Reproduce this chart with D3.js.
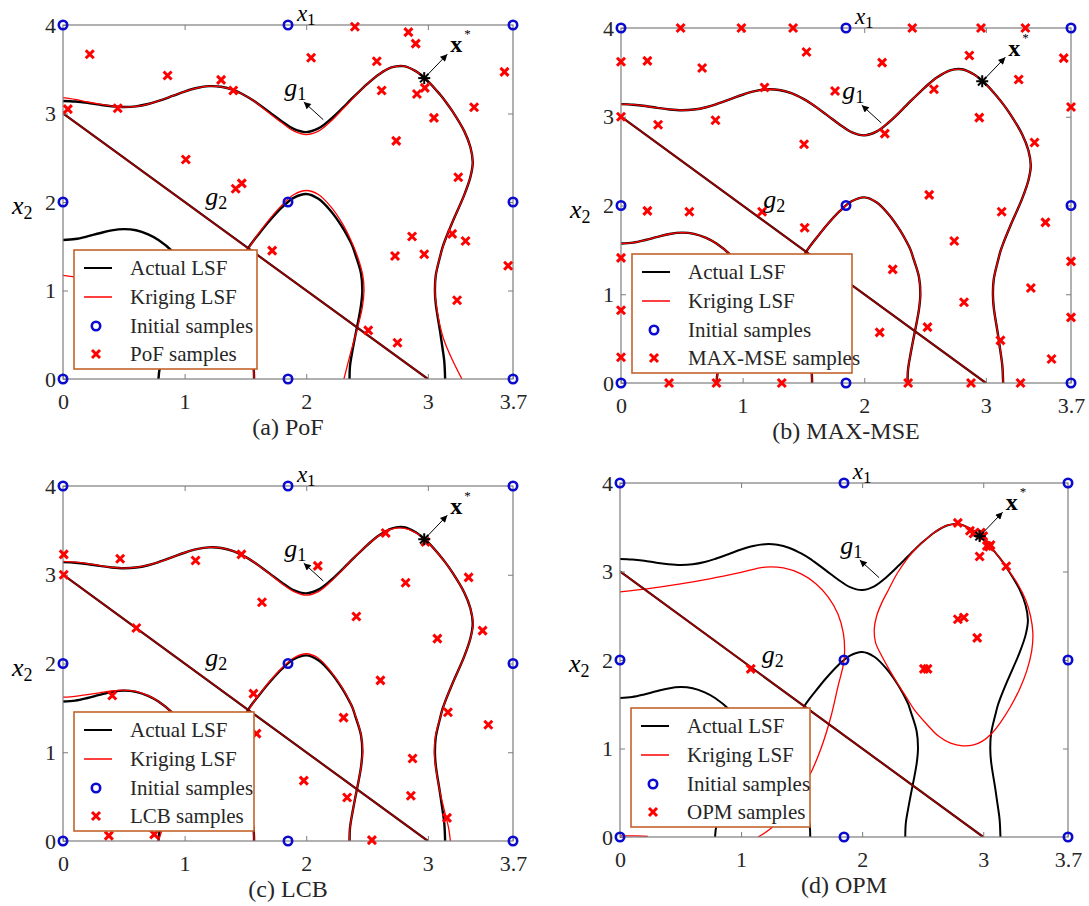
<!DOCTYPE html>
<html>
<head>
<meta charset="utf-8">
<script src="https://cdn.jsdelivr.net/npm/d3@7/dist/d3.min.js"></script>
<style>
body { margin: 0; background: #fff; }
text { font-family: "Liberation Serif", "Times New Roman", serif; }
</style>
</head>
<body>
<script>
var width = 1089;
var height = 906;

// axis ticks
var xTicks = [0, 1, 2, 3, 3.7];
var yTicks = [0, 1, 2, 3, 4];

// 3x3 grid of initial samples (same in every panel)
var initialSamples = [[0,0],[0,2],[0,4],[1.85,0],[1.85,2],[1.85,4],[3.7,0],[3.7,2],[3.7,4]];
var optimum = [2.97, 3.40];
var g2Line = [[0,3],[3,0]];

// actual limit state curves (g1 = 0)
var actualUpper = [[0,3.142],[0.1,3.136],[0.2,3.121],[0.3,3.10],[0.4,3.082],[0.5,3.073],[0.6,3.081],[0.7,3.107],[0.785,3.142],[0.9,3.198],[1.0,3.248],[1.1,3.288],[1.2,3.309],[1.3,3.302],[1.4,3.266],[1.5,3.201],[1.571,3.142],[1.6,3.114],[1.7,3.013],[1.8,2.910],[1.9,2.823],[2.0,2.790],[2.1,2.832],[2.2,2.935],[2.3,3.064],[2.356,3.142],[2.4,3.201],[2.5,3.332],[2.6,3.444],[2.7,3.520],[2.8,3.535],[2.9,3.479],[3.0,3.367],[3.1,3.214],[3.142,3.142],[3.2,3.029],[3.3,2.798],[3.35,2.619],[3.369,2.45],[3.35,2.284],[3.3,2.083],[3.2,1.766],[3.142,1.571],[3.12,1.485],[3.1,1.381],[3.065,1.17],[3.058,1.0],[3.065,0.85],[3.1,0.541],[3.12,0.353],[3.135,0.2],[3.142,0]];
var actualMiddle = [[1.571,0],[1.565,0.15],[1.53,0.34],[1.5,0.467],[1.4,0.836],[1.37,0.93],[1.365,1.0],[1.37,1.09],[1.4,1.191],[1.5,1.421],[1.53,1.494],[1.571,1.571],[1.6,1.622],[1.7,1.791],[1.8,1.939],[1.9,2.05],[2.0,2.091],[2.1,2.037],[2.2,1.902],[2.3,1.709],[2.356,1.571],[2.38,1.503],[2.4,1.422],[2.45,1.195],[2.461,1.0],[2.45,0.83],[2.4,0.466],[2.38,0.321],[2.36,0.15],[2.356,0]];
var actualLeft = [[0,1.571],[0.1,1.582],[0.2,1.611],[0.3,1.647],[0.4,1.679],[0.5,1.694],[0.6,1.681],[0.7,1.635],[0.785,1.571],[0.9,1.443],[1.0,1.278],[1.05,1.161],[1.081,1.0],[1.05,0.88],[1.0,0.70],[0.9,0.452],[0.8,0.146],[0.785,0]];

// kriging LSF, panel (a)
var krigA_upper = [[0,3.18],[0.1,3.16],[0.2,3.13],[0.3,3.105],[0.4,3.084],[0.5,3.073],[0.6,3.081],[0.7,3.107],[0.785,3.142],[0.9,3.198],[1.0,3.248],[1.1,3.288],[1.2,3.309],[1.3,3.302],[1.4,3.266],[1.5,3.201],[1.571,3.142],[1.6,3.11],[1.7,3.0],[1.8,2.895],[1.9,2.80],[2.0,2.762],[2.1,2.80],[2.2,2.91],[2.3,3.05],[2.356,3.13],[2.4,3.195],[2.5,3.332],[2.6,3.444],[2.7,3.520],[2.8,3.535],[2.9,3.479],[3.0,3.367],[3.1,3.214],[3.142,3.142],[3.2,3.029],[3.3,2.798],[3.35,2.619],[3.369,2.45],[3.35,2.284],[3.3,2.083],[3.2,1.766],[3.142,1.571],[3.1,1.381],[3.07,1.21],[3.058,1.0],[3.075,0.78],[3.1,0.6],[3.13,0.45],[3.2,0.22],[3.28,0]];
var krigA_middle = [[1.571,0],[1.565,0.15],[1.53,0.34],[1.5,0.467],[1.4,0.836],[1.365,1.0],[1.4,1.191],[1.5,1.421],[1.571,1.571],[1.6,1.63],[1.7,1.81],[1.8,1.965],[1.9,2.085],[2.0,2.13],[2.1,2.085],[2.2,1.95],[2.3,1.75],[2.37,1.56],[2.42,1.39],[2.465,1.17],[2.475,1.0],[2.46,0.8],[2.41,0.52],[2.36,0.27],[2.31,0]];
var krigA_left = [[0,1.17],[0.12,1.15],[0.3,1.12],[0.5,1.05]];

// kriging LSF, panel (c)
var krigC_upper = [[0,3.15],[0.1,3.142],[0.2,3.126],[0.3,3.104],[0.4,3.084],[0.5,3.075],[0.6,3.083],[0.7,3.108],[0.785,3.142],[0.9,3.198],[1.0,3.248],[1.1,3.288],[1.2,3.309],[1.3,3.302],[1.4,3.266],[1.5,3.201],[1.571,3.142],[1.6,3.112],[1.7,3.008],[1.8,2.90],[1.9,2.81],[2.0,2.77],[2.1,2.81],[2.2,2.92],[2.3,3.058],[2.356,3.14],[2.4,3.201],[2.5,3.332],[2.6,3.444],[2.7,3.515],[2.8,3.525],[2.9,3.475],[3.0,3.367],[3.1,3.214],[3.142,3.142],[3.2,3.03],[3.3,2.80],[3.35,2.62],[3.372,2.45],[3.35,2.28],[3.3,2.083],[3.2,1.766],[3.142,1.571],[3.1,1.381],[3.065,1.2],[3.053,1.0],[3.07,0.78],[3.1,0.55],[3.14,0.32],[3.17,0.15],[3.185,0]];
var krigC_middle = [[1.571,0],[1.565,0.15],[1.53,0.34],[1.5,0.467],[1.4,0.836],[1.365,1.0],[1.4,1.191],[1.5,1.421],[1.571,1.571],[1.6,1.625],[1.7,1.80],[1.8,1.95],[1.9,2.065],[2.0,2.11],[2.1,2.06],[2.2,1.915],[2.3,1.72],[2.356,1.578],[2.4,1.43],[2.45,1.2],[2.463,1.0],[2.45,0.83],[2.4,0.466],[2.36,0.15],[2.356,0]];
var krigC_left = [[0,1.62],[0.1,1.63],[0.2,1.65],[0.3,1.67],[0.4,1.69],[0.5,1.70],[0.6,1.685],[0.7,1.637],[0.785,1.571],[0.9,1.443],[1.0,1.278],[1.081,1.0],[1.0,0.70],[0.9,0.452],[0.785,0]];

// kriging LSF, panel (d)
var krigD_left = [[0,2.77],[0.25,2.81],[0.5,2.86],[0.75,2.92],[1.0,2.99],[1.2,3.05],[1.35,3.04],[1.5,2.97],[1.62,2.86],[1.72,2.71],[1.8,2.52],[1.845,2.3],[1.855,2.1],[1.845,1.95],[1.8,1.7],[1.74,1.35],[1.66,1.0],[1.56,0.68],[1.44,0.42],[1.33,0.22],[1.24,0.09],[1.14,0]];
var krigD_bottom = [[0,0.012],[0.12,0.012],[0.23,0.008]];
var krigD_loop = [[2.5,3.332],[2.6,3.444],[2.7,3.52],[2.8,3.535],[2.9,3.479],[3.0,3.367],[3.1,3.214],[3.142,3.142],[3.2,3.03],[3.28,2.87],[3.35,2.68],[3.39,2.5],[3.41,2.3],[3.40,2.10],[3.36,1.88],[3.30,1.67],[3.22,1.46],[3.14,1.29],[3.07,1.17],[2.99,1.08],[2.92,1.04],[2.83,1.03],[2.73,1.06],[2.63,1.14],[2.53,1.28],[2.43,1.44],[2.36,1.59],[2.29,1.74],[2.22,1.90],[2.16,2.05],[2.11,2.20],[2.10,2.35],[2.12,2.50],[2.16,2.64],[2.22,2.80],[2.29,2.98],[2.37,3.14],[2.43,3.24]];

// infill samples
var pofSamples = [[0.22,3.67],[0.04,3.05],[0.45,3.06],[0.86,3.43],[1.30,3.38],[1.40,3.26],[1.01,2.48],[1.42,2.15],[1.47,2.21],[1.72,1.45],[2.04,3.63],[2.40,3.98],[2.58,3.59],[2.62,3.26],[2.74,2.69],[2.84,3.92],[2.90,3.79],[2.91,3.22],[2.975,3.29],[3.05,2.95],[3.38,3.07],[3.63,3.47],[3.25,2.28],[3.20,1.64],[3.31,1.56],[2.87,1.61],[2.73,1.39],[2.97,1.41],[3.66,1.28],[3.24,0.89],[2.51,0.55],[2.75,0.41]];
var maxmseSamples = [[0.49,4],[0.99,4],[1.415,4],[2.395,4],[2.96,4],[3.325,4],[0,3.62],[0.217,3.63],[0.667,3.55],[1.525,3.73],[2.147,3.61],[2.864,3.69],[3.64,3.66],[3.27,3.42],[1.18,3.33],[1.76,3.29],[2.573,3.31],[0,3.0],[0.305,2.91],[0.777,2.96],[2.946,2.99],[3.7,3.11],[2.169,2.81],[1.505,2.69],[3.40,2.71],[2.534,2.12],[3.13,1.93],[3.49,1.81],[0.217,1.94],[0.562,1.93],[1.16,1.93],[1.51,1.75],[2.74,1.60],[3.7,1.37],[0,1.41],[2.234,1.28],[3.37,1.07],[2.82,0.91],[0,0.82],[3.7,0.74],[2.127,0.57],[2.52,0.63],[3.12,0.48],[0,0.29],[3.54,0.27],[0.395,0],[0.785,0],[1.322,0],[2.361,0],[2.878,0],[3.285,0]];
var lcbSamples = [[0.006,3.23],[0.47,3.18],[1.09,3.16],[1.467,3.23],[2.095,3.10],[0.006,3.0],[1.636,2.69],[2.653,3.47],[2.817,2.91],[3.335,2.97],[2.412,2.53],[3.45,2.37],[3.078,2.28],[0.603,2.40],[2.61,1.81],[0.405,1.64],[1.566,1.66],[3.165,1.45],[3.497,1.31],[1.591,1.21],[2.307,1.39],[2.874,0.93],[1.98,0.68],[2.336,0.49],[2.86,0.51],[3.157,0.26],[0.377,0.06],[0.75,0.075],[2.54,0.01],[2.98,3.37]];
var opmSamples = [[2.79,3.55],[2.89,3.46],[2.92,3.43],[2.98,3.44],[3.0,3.40],[3.03,3.29],[3.06,3.30],[3.05,3.28],[2.97,3.17],[3.19,3.06],[2.79,2.46],[2.84,2.48],[2.95,2.25],[2.51,1.90],[2.54,1.90],[1.08,1.90]];

var panels = [
    {left: 63, top: 25, w: 450, h: 354, caption: "(a) PoF", name: "PoF samples", legendW: 183,
     samples: pofSamples, kriging: [krigA_upper, krigA_middle, krigA_left], loop: null, overlay: true},
    {left: 621, top: 28, w: 450, h: 355, caption: "(b) MAX-MSE", name: "MAX-MSE samples", legendW: 220,
     samples: maxmseSamples, kriging: [actualUpper, actualMiddle, actualLeft], loop: null, overlay: true},
    {left: 63, top: 486, w: 450, h: 355, caption: "(c) LCB", name: "LCB samples", legendW: 180,
     samples: lcbSamples, kriging: [krigC_upper, krigC_middle, krigC_left], loop: null, overlay: true},
    {left: 620, top: 483, w: 448, h: 354, caption: "(d) OPM", name: "OPM samples", legendW: 179,
     samples: opmSamples, kriging: [krigD_left, krigD_bottom], loop: krigD_loop, overlay: false}
];

var svg = d3.select("body").append("svg")
    .attr("width", width)
    .attr("height", height);

svg.append("rect").attr("width", width).attr("height", height).attr("fill", "#fff");

var defs = svg.append("defs");
defs.append("marker")
    .attr("id", "arrow")
    .attr("viewBox", "0 0 10 10")
    .attr("refX", 10).attr("refY", 5)
    .attr("markerWidth", 9).attr("markerHeight", 7)
    .attr("markerUnits", "userSpaceOnUse")
    .attr("orient", "auto")
    .append("path").attr("d", "M0,0L10,5L0,10z").attr("fill", "#000");

var axisCol = "#7d7d7d";
var textCol = "#262626";
var red = "#ff0000";
var blue = "#0b0bd0";

function crossPath(s) {
    return "M" + (-s) + "," + (-s) + "L" + s + "," + s + "M" + (-s) + "," + s + "L" + s + "," + (-s);
}

panels.forEach(function(p, i) {
    var x = d3.scaleLinear().domain([0, 3.7]).range([p.left, p.left + p.w]);
    var y = d3.scaleLinear().domain([0, 4]).range([p.top + p.h, p.top]);
    var line = d3.line().x(d => x(d[0])).y(d => y(d[1])).curve(d3.curveCatmullRom.alpha(0.5));
    var loopLine = d3.line().x(d => x(d[0])).y(d => y(d[1])).curve(d3.curveCatmullRomClosed.alpha(0.5));

    defs.append("clipPath").attr("id", "clip" + i)
        .append("rect").attr("x", p.left).attr("y", p.top).attr("width", p.w).attr("height", p.h);

    var g = svg.append("g");
    var plot = g.append("g").attr("clip-path", "url(#clip" + i + ")");

    // actual LSF
    [actualUpper, actualMiddle, actualLeft].forEach(function(c) {
        plot.append("path").attr("d", line(c))
            .attr("fill", "none").attr("stroke", "#000")
            .attr("stroke-width", p.overlay ? 2.4 : 2.0);
    });
    // kriging LSF
    p.kriging.forEach(function(c) {
        plot.append("path").attr("d", line(c))
            .attr("fill", "none").attr("stroke", red).attr("stroke-width", 1.3);
    });
    if (p.loop) {
        plot.append("path").attr("d", loopLine(p.loop))
            .attr("fill", "none").attr("stroke", red).attr("stroke-width", 1.3);
    }
    // g2 (actual and kriging coincide)
    plot.append("path").attr("d", d3.line().x(d => x(d[0])).y(d => y(d[1]))(g2Line))
        .attr("fill", "none").attr("stroke", "#000").attr("stroke-width", 2.2);
    plot.append("path").attr("d", d3.line().x(d => x(d[0])).y(d => y(d[1]))(g2Line))
        .attr("fill", "none").attr("stroke", red).attr("stroke-opacity", 0.6).attr("stroke-width", 1.6);

    // frame and ticks
    g.append("rect").attr("x", p.left).attr("y", p.top).attr("width", p.w).attr("height", p.h)
        .attr("fill", "none").attr("stroke", axisCol).attr("stroke-width", 1.2);

    var xb = g.append("g").attr("transform", "translate(0," + (p.top + p.h) + ")")
        .call(d3.axisBottom(x).tickValues(xTicks).tickSizeInner(-5).tickSizeOuter(0).tickPadding(14).tickFormat(d3.format("")));
    var yl = g.append("g").attr("transform", "translate(" + p.left + ",0)")
        .call(d3.axisLeft(y).tickValues(yTicks).tickSizeInner(-5).tickSizeOuter(0).tickPadding(7).tickFormat(d3.format("")));
    var xt = g.append("g").attr("transform", "translate(0," + p.top + ")")
        .call(d3.axisTop(x).tickValues([1, 2, 3]).tickSizeInner(-5).tickSizeOuter(0).tickFormat(""));
    var yr = g.append("g").attr("transform", "translate(" + (p.left + p.w) + ",0)")
        .call(d3.axisRight(y).tickValues([1, 2, 3]).tickSizeInner(-5).tickSizeOuter(0).tickFormat(""));
    [xb, yl, xt, yr].forEach(function(a) {
        a.select(".domain").remove();
        a.selectAll("line").attr("stroke", axisCol);
        a.selectAll("text").attr("fill", textCol).style("font-size", "22px")
            .style("font-family", "'Liberation Serif', serif");
    });

    // axis labels
    var xl = g.append("text").attr("x", x(2.0)).attr("y", p.top - 4)
        .attr("text-anchor", "middle").attr("fill", "#000").style("font-size", "23px");
    xl.append("tspan").style("font-style", "italic").text("x");
    xl.append("tspan").attr("dy", 4).style("font-size", "17px").text("1");

    var yLab = g.append("text").attr("x", p.left - 51).attr("y", y(2) + 12)
        .attr("fill", "#000").style("font-size", "26px");
    yLab.append("tspan").style("font-style", "italic").text("x");
    yLab.append("tspan").attr("dy", 5).style("font-size", "18px").text("2");

    // caption
    g.append("text").attr("x", p.left + p.w / 2).attr("y", p.top + p.h + 56)
        .attr("text-anchor", "middle").attr("fill", textCol).style("font-size", "24px")
        .text(p.caption);

    // samples
    g.selectAll(".init").data(initialSamples).enter().append("circle")
        .attr("cx", d => x(d[0])).attr("cy", d => y(d[1])).attr("r", 4.2)
        .attr("fill", "none").attr("stroke", blue).attr("stroke-width", 2.6);
    g.selectAll(".smp").data(p.samples).enter().append("path")
        .attr("transform", d => "translate(" + x(d[0]) + "," + y(d[1]) + ")")
        .attr("d", crossPath(4)).attr("stroke", red).attr("stroke-width", 3).attr("fill", "none");

    // optimum x*
    var sx = x(optimum[0]), sy = y(optimum[1]);
    var star = g.append("g").attr("transform", "translate(" + sx + "," + sy + ")");
    [0, 45, 90, 135].forEach(function(a) {
        star.append("line").attr("x1", -6).attr("x2", 6).attr("y1", 0).attr("y2", 0)
            .attr("transform", "rotate(" + a + ")")
            .attr("stroke", "#000").attr("stroke-width", 2);
    });
    g.append("line").attr("x1", sx + 4).attr("y1", sy - 4).attr("x2", x(3.16)).attr("y2", y(3.67))
        .attr("stroke", "#000").attr("stroke-width", 1).attr("marker-end", "url(#arrow)");
    var xs = g.append("text").attr("x", x(3.185)).attr("y", y(3.69)).attr("fill", "#000")
        .style("font-size", "24px").style("font-weight", "bold");
    xs.append("tspan").text("x");
    xs.append("tspan").attr("dy", -14).attr("dx", 2).style("font-size", "13px").style("font-weight", "normal").text("*");

    // g1 and g2 labels
    g.append("line").attr("x1", x(2.14)).attr("y1", y(2.93)).attr("x2", x(1.98)).attr("y2", y(3.13))
        .attr("stroke", "#000").attr("stroke-width", 1).attr("marker-end", "url(#arrow)");
    var g1 = g.append("text").attr("x", x(1.82)).attr("y", y(3.20)).attr("fill", "#000").style("font-size", "26px");
    g1.append("tspan").style("font-style", "italic").text("g");
    g1.append("tspan").attr("dy", 4).style("font-size", "18px").text("1");
    var g2 = g.append("text").attr("x", x(1.17)).attr("y", y(1.97)).attr("fill", "#000").style("font-size", "26px");
    g2.append("tspan").style("font-style", "italic").text("g");
    g2.append("tspan").attr("dy", 4).style("font-size", "18px").text("2");

    // legend
    var lx = p.left + 11, ly = p.top + p.h - 129;
    var leg = g.append("g").attr("transform", "translate(" + lx + "," + ly + ")");
    leg.append("rect").attr("width", p.legendW).attr("height", 119)
        .attr("fill", "#fff").attr("stroke", "#c2632b").attr("stroke-width", 1.6);
    var rows = [18, 47, 76, 104];
    var labels = ["Actual LSF", "Kriging LSF", "Initial samples", p.name];
    leg.append("line").attr("x1", 10).attr("x2", 38).attr("y1", rows[0]).attr("y2", rows[0])
        .attr("stroke", "#000").attr("stroke-width", 2);
    leg.append("line").attr("x1", 10).attr("x2", 38).attr("y1", rows[1]).attr("y2", rows[1])
        .attr("stroke", red).attr("stroke-width", 1.5);
    leg.append("circle").attr("cx", 22).attr("cy", rows[2]).attr("r", 4.2)
        .attr("fill", "none").attr("stroke", blue).attr("stroke-width", 2.6);
    leg.append("path").attr("transform", "translate(22," + rows[3] + ")")
        .attr("d", crossPath(4)).attr("stroke", red).attr("stroke-width", 3);
    leg.selectAll(".lt").data(labels).enter().append("text")
        .attr("x", 56).attr("y", (d, k) => rows[k] + 7)
        .attr("fill", textCol).style("font-size", "21px")
        .text(d => d);
});
</script>
</body>
</html>
